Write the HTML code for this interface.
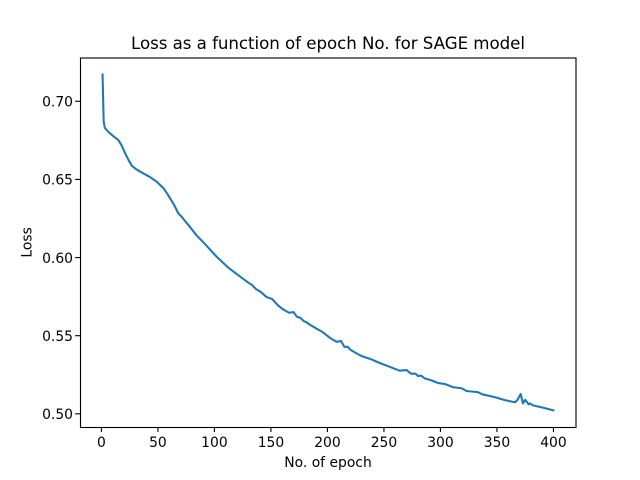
<!DOCTYPE html>
<html>
<head>
<meta charset="utf-8">
<title>Loss as a function of epoch No. for SAGE model</title>
<style>
html,body{margin:0;padding:0;background:#fff;width:640px;height:480px;overflow:hidden}
svg{display:block}
text{font-family:"DejaVu Sans",sans-serif;fill:#000}
</style>
</head>
<body>
<svg id="chart" width="640" height="480" viewBox="0 0 640 480" xmlns="http://www.w3.org/2000/svg">
<rect x="0" y="0" width="640" height="480" fill="#fff"/>
<text x="328" y="49" font-size="16.67" text-anchor="middle" textLength="394" lengthAdjust="spacing">Loss as a function of epoch No. for SAGE model</text>
<text x="328" y="467" font-size="13.89" text-anchor="middle">No. of epoch</text>
<text x="0" y="0" font-size="13.89" text-anchor="middle" transform="translate(31.5,242.4) rotate(-90)">Loss</text>
<g id="ticks"></g>
<polyline id="line" fill="none" stroke="#1f77b4" stroke-width="2.08" stroke-linejoin="round" stroke-linecap="square"></polyline>
<rect x="80.5" y="58" width="495.5" height="369.5" fill="none" stroke="#000" stroke-width="1.11"/>
</svg>
<script>
var epochs = [1,2,3,6,10,15,18,21,24,27,31,37,43,49,55,59,64,68,71,75,77,84,93,102,112,123,130,133,137,141,146,151,156,160,166,170,173,176,179,182,186,190,196,202,208,212,215,218,220,224,230,238,247,251,264,270,274,278,280,283,286,292,298,304,311,319,323,333,337,348,357,366,368,371,373,375,378,379,382,391,400];
var losses = [0.7172,0.6870,0.6830,0.6805,0.6780,0.6752,0.6716,0.6667,0.6624,0.6587,0.6564,0.6539,0.6515,0.6485,0.6443,0.6400,0.6341,0.6283,0.6261,0.6225,0.6208,0.6144,0.6076,0.6005,0.5937,0.5877,0.5839,0.5826,0.5797,0.5780,0.5748,0.5735,0.5696,0.5672,0.5647,0.5651,0.5621,0.5615,0.5594,0.5583,0.5564,0.5547,0.5522,0.5487,0.5461,0.5466,0.5429,0.5429,0.5412,0.5394,0.5370,0.5351,0.5323,0.5312,0.5276,0.5280,0.5257,0.5257,0.5242,0.5244,0.5227,0.5214,0.5197,0.5191,0.5171,0.5163,0.5146,0.5139,0.5125,0.5107,0.5088,0.5074,0.5088,0.5127,0.5067,0.5090,0.5061,0.5067,0.5054,0.5039,0.5022];
var xTickValues = [0,50,100,150,200,250,300,350,400];
var yTickValues = [0.50,0.55,0.60,0.65,0.70];

var NS = 'http://www.w3.org/2000/svg';
var left = 80, right = 576, top_ = 57.6, bottom = 427.2;
var xMin = Math.min.apply(null, epochs), xMax = Math.max.apply(null, epochs);
var yMin = Math.min.apply(null, losses), yMax = Math.max.apply(null, losses);
var xPad = (xMax - xMin) * 0.05, yPad = (yMax - yMin) * 0.05;
function xScale(v) { return left + (v - (xMin - xPad)) / ((xMax - xMin) + 2 * xPad) * (right - left); }
function yScale(v) { return bottom - (v - (yMin - yPad)) / ((yMax - yMin) + 2 * yPad) * (bottom - top_); }

var pts = [];
for (var i = 0; i < epochs.length; i++) {
  pts.push(xScale(epochs[i]).toFixed(2) + ',' + yScale(losses[i]).toFixed(2));
}
document.getElementById('line').setAttribute('points', pts.join(' '));

var g = document.getElementById('ticks');
xTickValues.forEach(function (v) {
  var x = xScale(v);
  var t = document.createElementNS(NS, 'line');
  
  
  t.setAttribute('x1', x); t.setAttribute('x2', x);
  t.setAttribute('y1', bottom); t.setAttribute('y2', bottom + 4.86);
  t.setAttribute('stroke', '#000'); t.setAttribute('stroke-width', '1.11');
  g.appendChild(t);
  var l = document.createElementNS(NS, 'text');
  
  
  l.setAttribute('x', x); l.setAttribute('y', 447);
  l.setAttribute('font-size', '13.89'); l.setAttribute('text-anchor', 'middle');
  l.textContent = String(v);
  g.appendChild(l);
});
yTickValues.forEach(function (v) {
  var y = yScale(v);
  var t = document.createElementNS(NS, 'line');
  
  
  t.setAttribute('x1', left); t.setAttribute('x2', left - 4.86);
  t.setAttribute('y1', y); t.setAttribute('y2', y);
  t.setAttribute('stroke', '#000'); t.setAttribute('stroke-width', '1.11');
  g.appendChild(t);
  var l = document.createElementNS(NS, 'text');
  
  
  l.setAttribute('x', 73); l.setAttribute('y', y + 5.3);
  l.setAttribute('font-size', '13.89'); l.setAttribute('text-anchor', 'end');
  l.textContent = v.toFixed(2);
  g.appendChild(l);
});
</script>
</body>
</html>
